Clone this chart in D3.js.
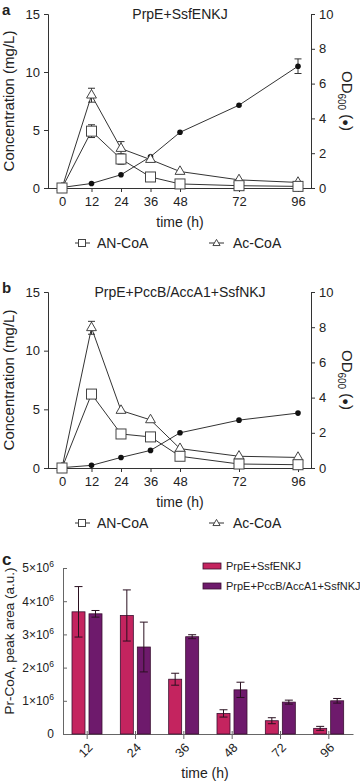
<!DOCTYPE html>
<html lang='en'>
<head>
<meta charset='utf-8'>
<title>Pr-CoA time course</title>
<script src='https://cdn.jsdelivr.net/npm/d3@7'></script>
<style>
  body { margin: 0; background: #fff; }
  text { font-family: 'Liberation Sans', Arial, sans-serif; fill: #222; }
</style>
</head>
<body>
<script>
// ---- data ----
var times = [0, 12, 24, 36, 48, 72, 96];

// panel a: PrpE+SsfENKJ
var a_an = [0, 4.9, 2.5, 0.95, 0.35, 0.2, 0.14];
var a_an_err = [0, 0.55, 0.45, 0, 0, 0, 0];
var a_ac = [0, 8.0, 3.4, 2.45, 1.42, 0.7, 0.48];
var a_ac_err = [0, 0.6, 0.6, 0, 0, 0, 0];
var a_od = [0.03, 0.26, 0.76, 1.8, 3.2, 4.76, 7.0];
var a_od_err = [0, 0, 0, 0, 0, 0, 0.42];

// panel b: PrpE+PccB/AccA1+SsfNKJ
var b_an = [0, 6.3, 2.9, 2.65, 1.0, 0.34, 0.28];
var b_an_err = [0, 0, 0, 0, 0, 0, 0];
var b_ac = [0, 11.95, 4.9, 4.1, 1.65, 1.0, 0.9];
var b_ac_err = [0, 0.55, 0, 0, 0, 0, 0];
var b_od = [0.02, 0.15, 0.6, 1.0, 2.0, 2.72, 3.12];
var b_od_err = [0, 0, 0, 0, 0, 0, 0];

var leftTicks = [0, 5, 10, 15];
var rightTicks = [0, 2, 4, 6, 8, 10];

// panel c
var barTimes = ['12', '24', '36', '48', '72', '96'];
var strains = ['PrpE+SsfENKJ', 'PrpE+PccB/AccA1+SsfNKJ'];
var c_ssf = [3.68e6, 3.57e6, 1.65e6, 0.62e6, 0.4e6, 0.17e6];
var c_ssf_err = [0.76e6, 0.77e6, 0.18e6, 0.11e6, 0.09e6, 0.06e6];
var c_pcc = [3.62e6, 2.62e6, 2.93e6, 1.33e6, 0.96e6, 1.0e6];
var c_pcc_err = [0.1e6, 0.75e6, 0.06e6, 0.23e6, 0.06e6, 0.07e6];
var cTicks = [0, 1, 2, 3, 4, 5];
var colors = ['#c4245f', '#6e1a6c'];

var width = 360, height = 781;
var svg = d3.select('body').append('svg').attr('width', width).attr('height', height);

function linePanel(top, bottom, title, letter, an, anErr, ac, acErr, od, odErr) {
  var g = svg.append('g');
  var x = d3.scaleLinear().domain([0, 96]).range([62, 298]);
  var yL = d3.scaleLinear().domain([0, 15]).range([bottom, top]);
  var yR = d3.scaleLinear().domain([0, 10]).range([bottom, top]);
  var axL = 48, axR = 311;

  // axes
  var gl = g.append('g').attr('transform', 'translate(' + axL + ',0)')
    .call(d3.axisLeft(yL).tickValues(leftTicks).tickSize(4).tickPadding(4));
  var gr = g.append('g').attr('transform', 'translate(' + axR + ',0)')
    .call(d3.axisRight(yR).tickValues(rightTicks).tickSize(4).tickPadding(4));
  var gb = g.append('g').attr('transform', 'translate(0,' + bottom + ')')
    .call(d3.axisBottom(x).tickValues(times).tickSize(4).tickPadding(5));
  gb.select('.domain').attr('d', 'M' + axL + ',0.5H' + axR);
  [gl, gr, gb].forEach(function (a) {
    a.selectAll('path,line').attr('stroke', '#333');
    a.selectAll('text').style('font-size', '13px').attr('fill', '#222');
  });

  // error bars
  function errs(vals, err, scale) {
    var d = times.map(function (t, i) { return {t: t, v: vals[i], e: err[i]}; }).filter(function (d) { return d.e > 0; });
    var eg = g.append('g').attr('stroke', '#333').attr('stroke-width', 1);
    eg.selectAll(null).data(d).enter().append('line')
      .attr('x1', function (d) { return x(d.t); }).attr('x2', function (d) { return x(d.t); })
      .attr('y1', function (d) { return scale(d.v - d.e); }).attr('y2', function (d) { return scale(d.v + d.e); });
    [-1, 1].forEach(function (s) {
      eg.selectAll(null).data(d).enter().append('line')
        .attr('x1', function (d) { return x(d.t) - 3.5; }).attr('x2', function (d) { return x(d.t) + 3.5; })
        .attr('y1', function (d) { return scale(d.v + s * d.e); })
        .attr('y2', function (d) { return scale(d.v + s * d.e); });
    });
  }
  errs(od, odErr, yR);
  errs(ac, acErr, yL);
  errs(an, anErr, yL);

  // lines
  function line(vals, scale) {
    g.append('path').datum(vals)
      .attr('fill', 'none').attr('stroke', '#333').attr('stroke-width', 1)
      .attr('d', d3.line().x(function (d, i) { return x(times[i]); }).y(function (d) { return scale(d); }));
  }
  line(od, yR);
  line(ac, yL);
  line(an, yL);

  g.selectAll(null).data(od).enter().append('circle')
    .attr('cx', function (d, i) { return x(times[i]); }).attr('cy', function (d) { return yR(d); })
    .attr('r', 2.8).attr('fill', '#111');
  g.selectAll(null).data(ac).enter().append('path')
    .attr('transform', function (d, i) { return 'translate(' + x(times[i]) + ',' + yL(d) + ')'; })
    .attr('d', d3.symbol(d3.symbolTriangle, 42)).attr('fill', '#fff').attr('stroke', '#444');
  g.selectAll(null).data(an).enter().append('rect')
    .attr('x', function (d, i) { return x(times[i]) - 5; }).attr('y', function (d) { return yL(d) - 5; })
    .attr('width', 10).attr('height', 10).attr('fill', '#fff').attr('stroke', '#444');

  // texts
  g.append('text').attr('x', 2).attr('y', top + 1).style('font-size', '15px').style('font-weight', 'bold').text(letter);
  g.append('text').attr('x', 180).attr('y', top + 5).attr('text-anchor', 'middle').style('font-size', '14px').text(title);
  var mid = (top + bottom) / 2;
  g.append('text').attr('transform', 'translate(14,' + mid + ') rotate(-90)').attr('text-anchor', 'middle')
    .style('font-size', '15px').text('Concentration (mg/L)');
  var od_t = g.append('text').attr('transform', 'translate(342,' + mid + ') rotate(90)').attr('text-anchor', 'middle')
    .style('font-size', '15px');
  od_t.append('tspan').text('OD');
  od_t.append('tspan').attr('dy', 4).style('font-size', '10px').text('600');
  od_t.append('tspan').attr('dy', -4).text(' (');
  od_t.append('tspan').text('\u25CF').style('font-size', '11px');
  od_t.append('tspan').text(')');
  g.append('text').attr('x', 180).attr('y', bottom + 39).attr('text-anchor', 'middle').style('font-size', '14px').text('time (h)');

  // legend
  var ly = bottom + 55;
  var lg = g.append('g').attr('stroke', '#333');
  lg.append('line').attr('x1', 75).attr('x2', 90).attr('y1', ly).attr('y2', ly);
  lg.append('rect').attr('x', 78.5).attr('y', ly - 3.5).attr('width', 7).attr('height', 7).attr('fill', '#fff').attr('stroke', '#444');
  lg.append('line').attr('x1', 209).attr('x2', 224).attr('y1', ly).attr('y2', ly);
  lg.append('path').attr('transform', 'translate(216.5,' + (ly + 0.5) + ')')
    .attr('d', d3.symbol(d3.symbolTriangle, 22)).attr('fill', '#fff').attr('stroke', '#444');
  g.append('text').attr('x', 97).attr('y', ly + 5).style('font-size', '14px').text('AN-CoA');
  g.append('text').attr('x', 233).attr('y', ly + 5).style('font-size', '14px').text('Ac-CoA');
}

linePanel(14, 188, 'PrpE+SsfENKJ', 'a', a_an, a_an_err, a_ac, a_ac_err, a_od, a_od_err);
linePanel(292, 468, 'PrpE+PccB/AccA1+SsfNKJ', 'b', b_an, b_an_err, b_ac, b_ac_err, b_od, b_od_err);

// ---- panel c ----
var cg = svg.append('g');
var x0 = d3.scaleBand().domain(barTimes).range([63, 353]);
var x1 = d3.scaleBand().domain(strains).range([9, 39]).paddingInner(0.235);
var yc = d3.scaleLinear().domain([0, 5e6]).range([734, 568]);

var cx = cg.append('g').attr('transform', 'translate(0,734)')
  .call(d3.axisBottom(x0).tickSizeInner(5).tickSizeOuter(0).tickPadding(4));
cx.selectAll('.tick line').attr('y1', -3);
cx.selectAll('text').attr('text-anchor', 'end').attr('dy', null)
  .attr('transform', 'translate(0,8) rotate(-45)').style('font-size', '12.5px');
var cy = cg.append('g').attr('transform', 'translate(63,0)')
  .call(d3.axisLeft(yc).tickValues(cTicks.map(function (d) { return d * 1e6; })).tickSizeInner(4).tickSizeOuter(0).tickPadding(5)
    .tickFormat(function () { return ''; }));
cy.selectAll('.tick line').attr('x2', 4);
cy.selectAll('.tick').each(function (d) {
  var t = d3.select(this).select('text').style('font-size', '12px');
  if (d === 0) { t.text('0'); return; }
  t.append('tspan').text((d / 1e6) + '\u00D710');
  t.append('tspan').attr('dy', -5).style('font-size', '8.5px').text('6');
});
[cx, cy].forEach(function (a) { a.selectAll('path,line').attr('stroke', '#666'); a.selectAll('text').attr('fill', '#222'); });

var cSeries = [c_ssf, c_pcc], cErr = [c_ssf_err, c_pcc_err];
strains.forEach(function (s, k) {
  var data = barTimes.map(function (t, i) { return {t: t, v: cSeries[k][i], e: cErr[k][i]}; });
  cg.selectAll(null).data(data).enter().append('rect')
    .attr('x', function (d) { return x0(d.t) + x1(s); })
    .attr('y', function (d) { return yc(d.v); })
    .attr('width', x1.bandwidth())
    .attr('height', function (d) { return 734 - yc(d.v); })
    .attr('fill', colors[k]).attr('stroke', '#3a1030').attr('stroke-width', 0.8);
  var eg = cg.append('g').attr('stroke', '#2a1020').attr('stroke-width', 1);
  var mx = function (d) { return x0(d.t) + x1(s) + x1.bandwidth() / 2; };
  eg.selectAll(null).data(data).enter().append('line')
    .attr('x1', mx).attr('x2', mx)
    .attr('y1', function (d) { return yc(d.v - d.e); }).attr('y2', function (d) { return yc(d.v + d.e); });
  [-1, 1].forEach(function (sg) {
    eg.selectAll(null).data(data).enter().append('line')
      .attr('x1', function (d) { return mx(d) - 4; }).attr('x2', function (d) { return mx(d) + 4; })
      .attr('y1', function (d) { return yc(d.v + sg * d.e); }).attr('y2', function (d) { return yc(d.v + sg * d.e); });
  });
});

// legend c
strains.forEach(function (s, k) {
  var ly = 566 + k * 20;
  cg.append('rect').attr('x', 203).attr('y', ly - 3).attr('width', 18).attr('height', 6)
    .attr('fill', colors[k]).attr('stroke', '#3a1030').attr('stroke-width', 0.8);
  cg.append('text').attr('x', 226).attr('y', ly + 4).style('font-size', '11px').text(s);
});

cg.append('text').attr('x', 2).attr('y', 565).style('font-size', '17px').style('font-weight', 'bold').text('c');
cg.append('text').attr('transform', 'translate(14,641) rotate(-90)').attr('text-anchor', 'middle')
  .style('font-size', '13.5px').text('Pr-CoA, peak area (a.u.)');
cg.append('text').attr('x', 205).attr('y', 778).attr('text-anchor', 'middle').style('font-size', '14px').text('time (h)');
</script>
</body>
</html>
